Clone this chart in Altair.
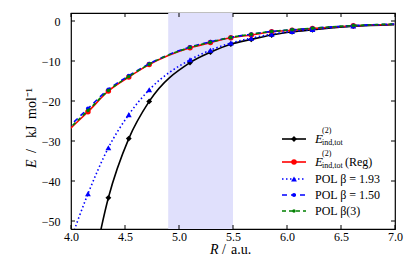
import altair as alt
import pandas as pd

# ---- data ----
R = [3.968, 4.157, 4.346, 4.535, 4.724, 5.102, 5.291, 5.480, 5.669, 5.858, 6.047, 6.236, 6.614, 6.992]
E_tot = [None, -68.0, -44.2, -29.4, -20.1, -10.4, -7.8, -5.8, -4.6, -3.5, -2.7, -2.2, -1.3, -0.9]
E_reg = [-27.5, -22.7, -17.5, -14.0, -10.9, -6.7, -5.4, -4.2, -3.5, -2.7, -2.3, -1.9, -1.2, -0.8]
POL_193 = [-57.0, -43.2, -31.7, -23.4, -17.2, -9.7, -7.3, -5.5, -4.3, -3.3, -2.6, -2.1, -1.25, -0.85]
POL_150 = [-26.8, -21.9, -17.1, -13.7, -10.7, -6.5, -5.2, -4.1, -3.3, -2.6, -2.2, -1.8, -1.15, -0.75]
POL_b3 = [-27.3, -22.4, -17.4, -13.9, -10.8, -6.6, -5.3, -4.1, -3.3, -2.6, -2.2, -1.8, -1.15, -0.75]
shade = [4.9, 5.5]
x_ticks = [4.0, 4.5, 5.0, 5.5, 6.0, 6.5, 7.0]
y_ticks = [0, -10, -20, -30, -40, -50]

W, H = 324, 216
FONT = "Liberation Serif"

xs = alt.Scale(domain=[4.0, 7.0], nice=False, zero=False)
ys = alt.Scale(domain=[-52, 2], nice=False, zero=False)

x_axis = alt.Axis(values=x_ticks, format=".1f", ticks=False, domain=False, grid=False,
                  labelFlush=False, labelOverlap=False, title=None,
                  labelFont=FONT, labelFontSize=12, labelColor="black", labelPadding=2)
y_axis = alt.Axis(values=y_ticks, format="d", ticks=False, domain=False, grid=False,
                  labelFlush=False, labelOverlap=False, title=None,
                  labelFont=FONT, labelFontSize=12, labelColor="black", labelPadding=11)


def frame(vals):
    df = pd.DataFrame({"R": R, "E": vals})
    return df.dropna()


series = [
    # values, color, width, dash, shape, size
    (E_tot, "black", 1.6, None, "diamond", 34),
    (E_reg, "#ff0000", 1.6, None, "circle", 30),
    (POL_193, "#0000ff", 1.6, [1.5, 2.5], "triangle-up", 34),
    (POL_150, "#0000ff", 1.6, [5, 4], "circle", 16),
    (POL_b3, "#008000", 1.6, [4, 3], "circle", 12),
]

layers = []

# shaded region
layers.append(
    alt.Chart(pd.DataFrame({"a": [shade[0]], "b": [shade[1]]}))
    .mark_rect(color="#e0e0fc")
    .encode(x=alt.X("a:Q", scale=xs, axis=x_axis), x2="b:Q",
            y=alt.value(0), y2=alt.value(H))
)

for vals, col, sw, dash, shape, size in series:
    base = alt.Chart(frame(vals)).encode(
        x=alt.X("R:Q", scale=xs, axis=x_axis),
        y=alt.Y("E:Q", scale=ys, axis=y_axis),
    )
    lkw = dict(color=col, strokeWidth=sw, clip=True, interpolate="monotone")
    if dash:
        lkw["strokeDash"] = dash
    layers.append(base.mark_line(**lkw))
    layers.append(
        base.transform_filter("datum.R < 6.8")
        .mark_point(shape=shape, filled=True, size=size, color=col, opacity=1, clip=True)
    )

# inward ticks
xt = pd.DataFrame({"t": x_ticks})
yt = pd.DataFrame({"t": y_ticks})
tick_kw = dict(color="black", strokeWidth=1)
layers.append(alt.Chart(xt).mark_rule(**tick_kw).encode(
    x=alt.X("t:Q", scale=xs, axis=x_axis), y=alt.value(H), y2=alt.value(H - 4)))
layers.append(alt.Chart(xt).mark_rule(**tick_kw).encode(
    x=alt.X("t:Q", scale=xs, axis=x_axis), y=alt.value(0), y2=alt.value(4)))
layers.append(alt.Chart(yt).mark_rule(**tick_kw).encode(
    y=alt.Y("t:Q", scale=ys, axis=y_axis), x=alt.value(0), x2=alt.value(4)))
layers.append(alt.Chart(yt).mark_rule(**tick_kw).encode(
    y=alt.Y("t:Q", scale=ys, axis=y_axis), x=alt.value(W - 4), x2=alt.value(W)))

# legend
row_y = [126, 149, 166, 182, 198]
dummy = pd.DataFrame({"d": [0]})
for (vals, col, sw, dash, shape, size), ry in zip(series, row_y):
    rkw = dict(color=col, strokeWidth=sw)
    if dash:
        rkw["strokeDash"] = dash
    layers.append(alt.Chart(dummy).mark_rule(**rkw).encode(
        x=alt.value(211), x2=alt.value(235), y=alt.value(ry)))
    layers.append(alt.Chart(dummy).mark_point(shape=shape, filled=True, size=size,
                                              color=col, opacity=1).encode(
        x=alt.value(223), y=alt.value(ry)))


def txt(s, x, y, fs=12, style="normal", baseline="middle", angle=0):
    kw = dict(text=s, font=FONT, fontSize=fs, fontStyle=style,
              align="left", baseline=baseline, color="black")
    if angle:
        kw["angle"] = angle
    return alt.Chart(dummy).mark_text(**kw).encode(x=alt.value(x), y=alt.value(y))


for i, ry in enumerate(row_y[:2]):
    layers.append(txt("E", 244, ry, 13, "italic"))
    layers.append(txt("(2)", 251, ry - 4, 8, baseline="bottom"))
    layers.append(txt("ind,tot", 251, ry + 4, 8))
layers.append(txt("(Reg)", 274, row_y[1], 12))
layers.append(txt("POL β = 1.93", 244, row_y[2], 12))
layers.append(txt("POL β = 1.50", 244, row_y[3], 12))
layers.append(txt("POL β(3)", 244, row_y[4], 12))

# axis titles (italic symbol + upright unit)
layers.append(txt("R", 139, 237, 14, "italic"))
layers.append(txt("/", 151, 237, 14))
layers.append(txt("a.u.", 160, 237, 14))
layers.append(txt("E", -39, 155, 14, "italic", angle=270))
layers.append(txt("/", -39, 140, 14, angle=270))
layers.append(txt("kJ", -39, 125, 14, angle=270))
layers.append(txt("mol⁻¹", -39, 106, 14, angle=270))

chart = alt.layer(*layers).properties(
    width=W, height=H,
    autosize=alt.AutoSizeParams(type="none"),
    padding={"left": 63, "top": 5, "right": 12, "bottom": 28},
).configure_view(stroke="black", strokeWidth=1.2)

chart.save("out.html", embed_options={"renderer": "svg", "actions": False})
